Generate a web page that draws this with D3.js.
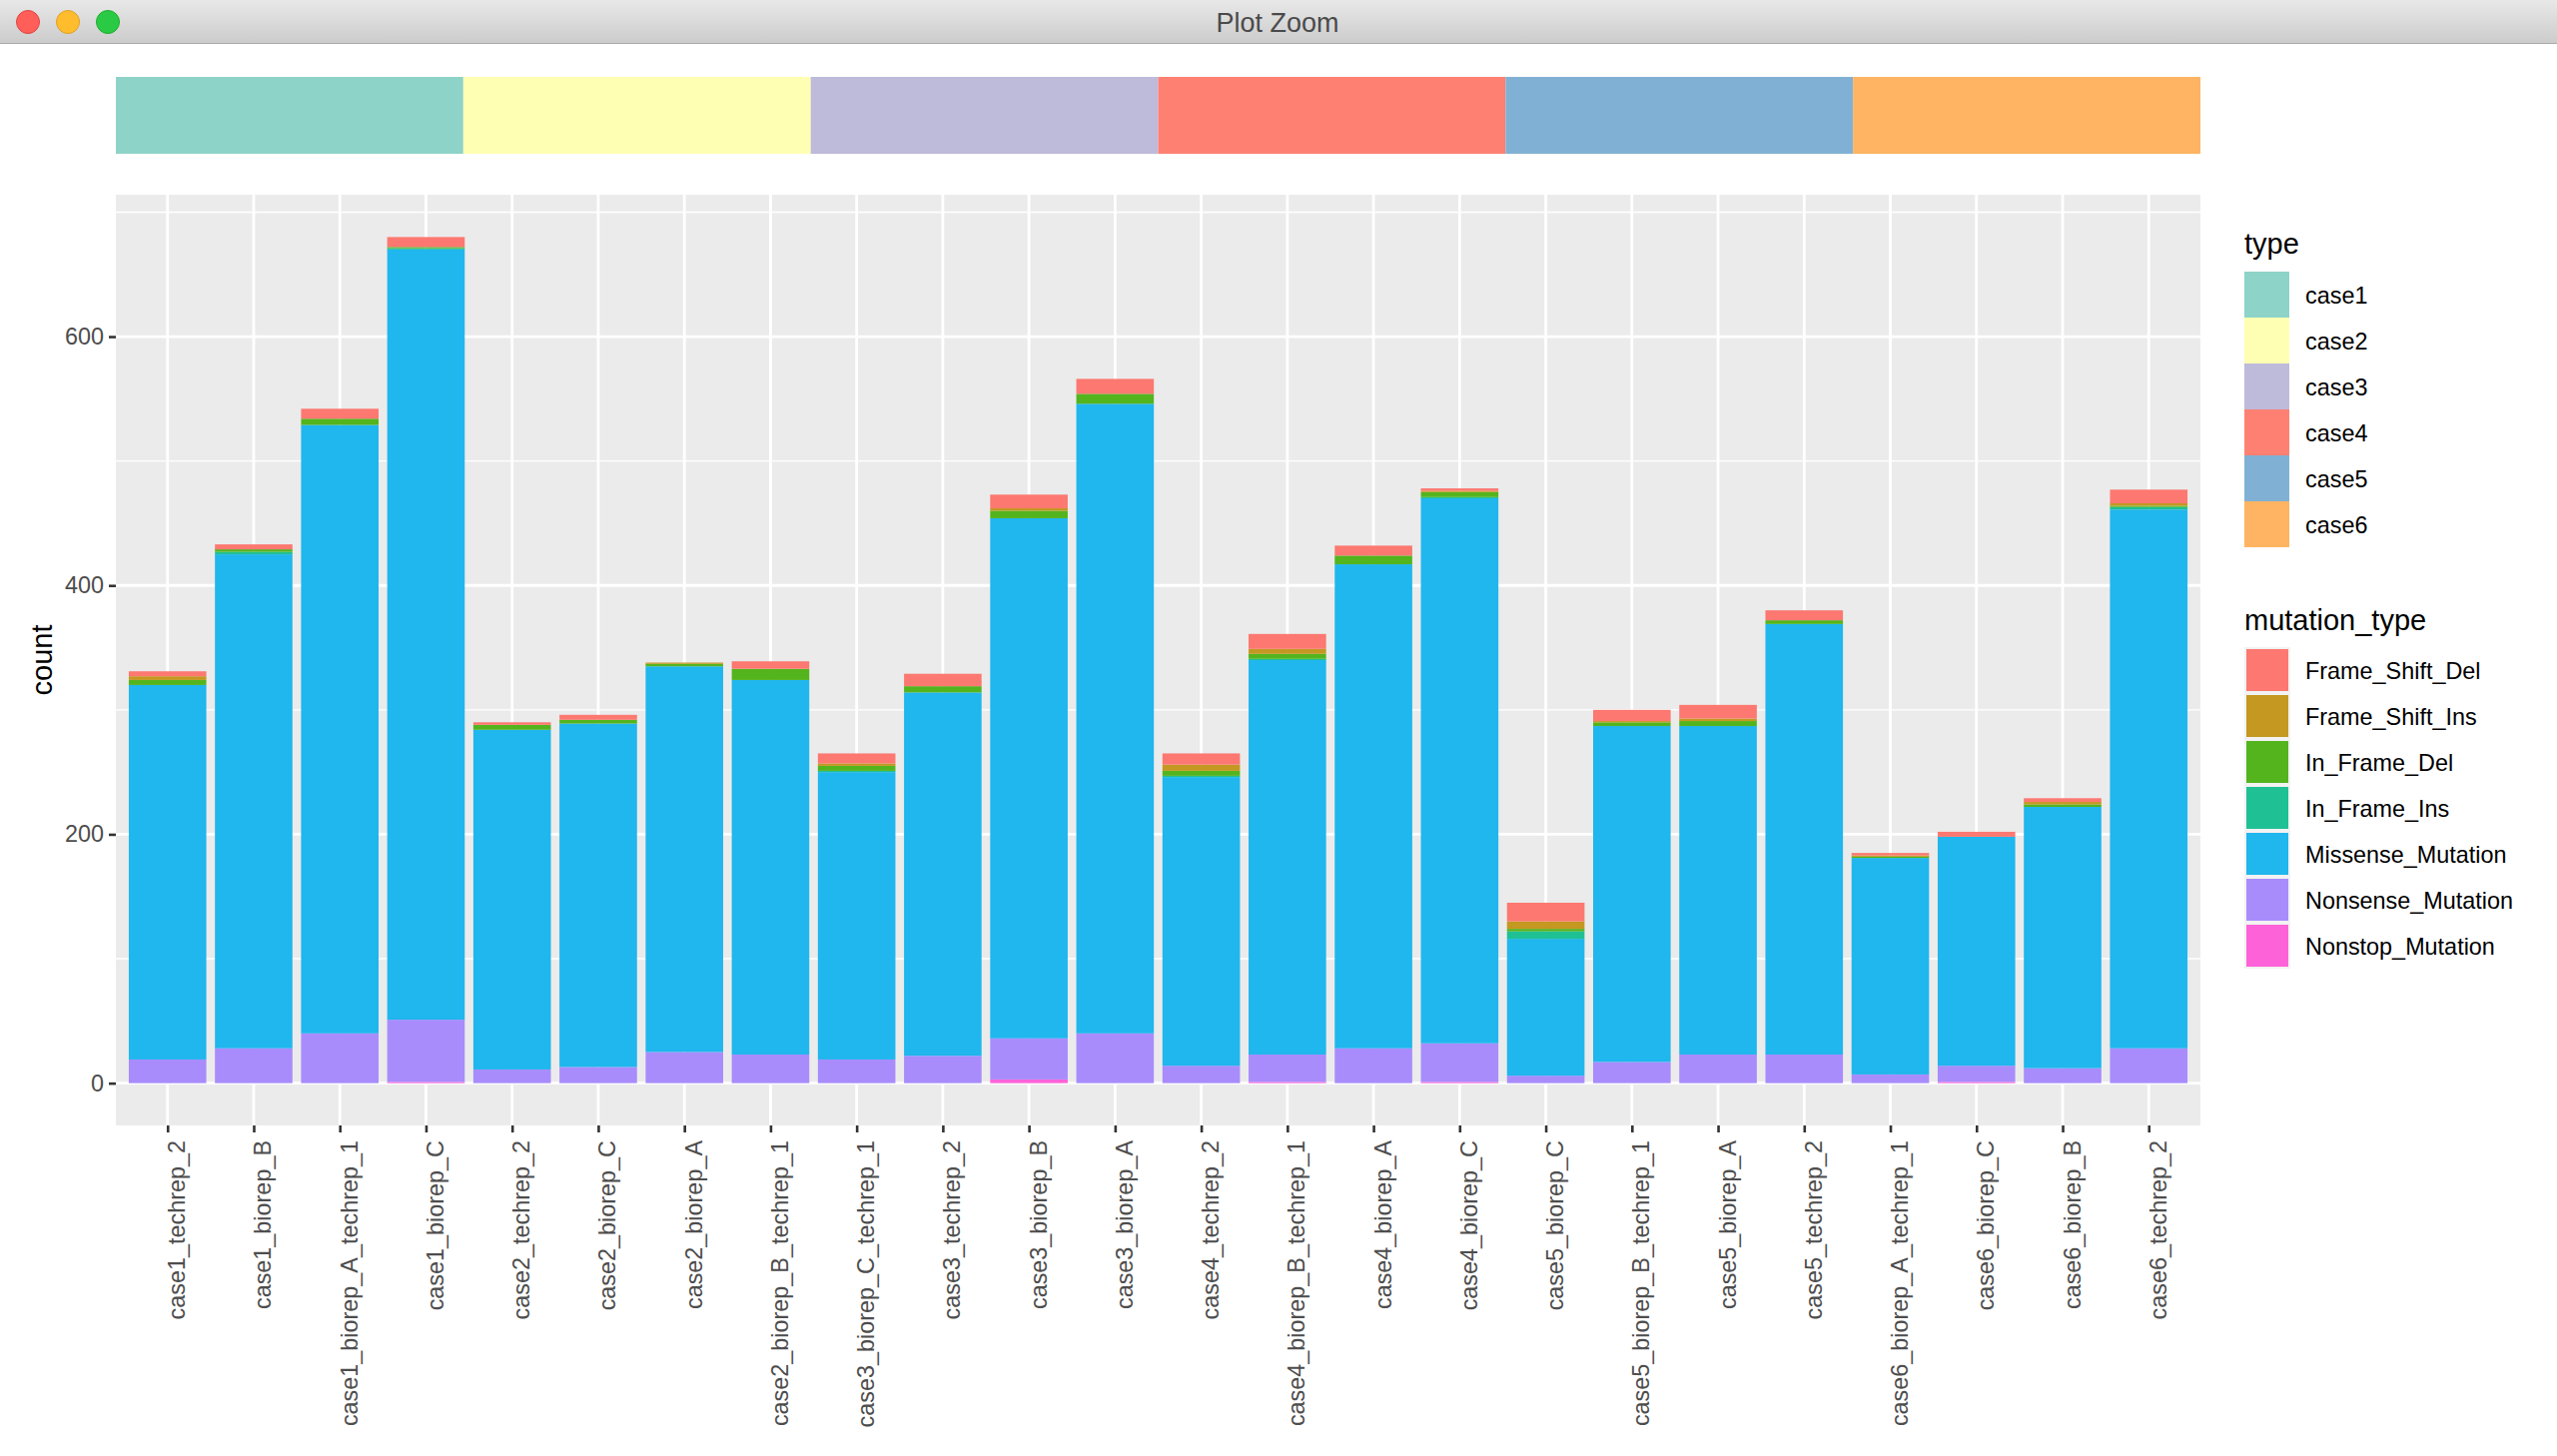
<!DOCTYPE html>
<html>
<head>
<meta charset="utf-8">
<script src="https://cdn.jsdelivr.net/npm/d3@7"></script>
<style>
  body { margin: 0; background: #fff; }
  text { font-family: "Liberation Sans", Arial, sans-serif; }
</style>
</head>
<body>
<svg id="chart" width="2560" height="1458"></svg>
<script>
// Sample names, in plotting order
var samples = [
  'case1_techrep_2', 'case1_biorep_B', 'case1_biorep_A_techrep_1', 'case1_biorep_C',
  'case2_techrep_2', 'case2_biorep_C', 'case2_biorep_A', 'case2_biorep_B_techrep_1',
  'case3_biorep_C_techrep_1', 'case3_techrep_2', 'case3_biorep_B', 'case3_biorep_A',
  'case4_techrep_2', 'case4_biorep_B_techrep_1', 'case4_biorep_A', 'case4_biorep_C',
  'case5_biorep_C', 'case5_biorep_B_techrep_1', 'case5_biorep_A', 'case5_techrep_2',
  'case6_biorep_A_techrep_1', 'case6_biorep_C', 'case6_biorep_B', 'case6_techrep_2'
];
var cases = ['case1', 'case2', 'case3', 'case4', 'case5', 'case6'];
var caseColors = ['#8ED3C7', '#FFFFB4', '#BEBADA', '#FE8072', '#80B1D4', '#FEB462'];

// Counts per mutation type, one value per sample
var frameShiftDel = [4, 4, 8, 8, 2, 4, 0, 6, 8, 10, 11, 12, 9, 12, 8, 2, 15, 9, 11, 8, 2, 4, 3, 11];
var frameShiftIns = [3, 0, 0, 0, 0, 0, 1, 0, 2, 0, 2, 0, 5, 4, 0, 1, 6, 1, 2, 0, 1, 0, 2, 2];
var inFrameDel = [4, 2, 5, 1, 4, 3, 2, 9, 4, 5, 6, 8, 4, 4, 7, 4, 2, 3, 4, 3, 1, 0, 2, 1];
var inFrameIns = [0, 2, 0, 1, 0, 0, 0, 0, 1, 0, 0, 0, 1, 1, 0, 1, 6, 0, 0, 0, 0, 0, 0, 2];
var missense = [301, 397, 489, 619, 273, 276, 310, 301, 231, 292, 418, 506, 232, 317, 389, 438, 110, 270, 264, 346, 174, 184, 210, 433];
var nonsense = [19, 28, 40, 50, 11, 13, 25, 23, 19, 22, 33, 40, 14, 22, 28, 31, 6, 17, 23, 23, 7, 13, 12, 28];
var nonstop = [0, 0, 0, 1, 0, 0, 0, 0, 0, 0, 3, 0, 0, 1, 0, 1, 0, 0, 0, 0, 0, 1, 0, 0];

var mutationTypes = ['Frame_Shift_Del', 'Frame_Shift_Ins', 'In_Frame_Del', 'In_Frame_Ins',
                     'Missense_Mutation', 'Nonsense_Mutation', 'Nonstop_Mutation'];
var mutationColors = ['#FC7870', '#C49821', '#54B41E', '#1FC094', '#20B6EE', '#A88CFC', '#FE62D8'];
var mutationCounts = [frameShiftDel, frameShiftIns, inFrameDel, inFrameIns, missense, nonsense, nonstop];

var majorTicks = [0, 200, 400, 600];
var minorTicks = [100, 300, 500, 700];

// Layout
var panelLeft = 116, panelRight = 2203, panelTop = 195, panelBottom = 1127;
var tickSize = 7, tickWidth = 2.6;

var svg = d3.select('#chart');

// Window chrome
var defs = svg.append('defs');
var titleGradient = defs.append('linearGradient')
  .attr('id', 'title_gradient')
  .attr('x1', 0).attr('y1', 0).attr('x2', 0).attr('y2', 1);
titleGradient.append('stop').attr('offset', '0%').attr('stop-color', '#E8E8E8');
titleGradient.append('stop').attr('offset', '100%').attr('stop-color', '#CCCCCC');

svg.append('rect')
  .attr('x', 0).attr('y', 0).attr('width', 2560).attr('height', 43)
  .attr('fill', 'url(#title_gradient)');
svg.append('rect')
  .attr('x', 0).attr('y', 43).attr('width', 2560).attr('height', 1)
  .attr('fill', '#A9A9A9');
svg.selectAll('.window_button')
  .data([[28, '#FF5F58', '#E0443E'], [68, '#FFBD2E', '#DFA023'], [108, '#2ACA44', '#1DAD2B']])
  .enter().append('circle')
  .attr('class', 'window_button')
  .attr('cx', function(d) { return d[0]; })
  .attr('cy', 22)
  .attr('r', 11.5)
  .attr('fill', function(d) { return d[1]; })
  .attr('stroke', function(d) { return d[2]; })
  .attr('stroke-width', 1);
svg.append('text')
  .attr('x', 1279).attr('y', 32)
  .attr('text-anchor', 'middle')
  .attr('font-size', 27)
  .attr('fill', '#4A4A4A')
  .text('Plot Zoom');

// Scales
var x = d3.scalePoint().domain(samples).range([panelLeft, panelRight]).padding(0.6);
var y = d3.scaleLinear().domain([-34, 714]).range([panelBottom, panelTop]);
var caseX = d3.scaleBand().domain(cases).range([panelLeft, panelRight]);
var caseColor = d3.scaleOrdinal().domain(cases).range(caseColors);
var mutationColor = d3.scaleOrdinal().domain(mutationTypes).range(mutationColors);
var barWidth = x.step() * 0.9;

// Annotation strip above the panel
svg.selectAll('.case_tile')
  .data(cases)
  .enter().append('rect')
  .attr('class', 'case_tile')
  .attr('x', function(d) { return caseX(d); })
  .attr('y', 77)
  .attr('width', caseX.bandwidth())
  .attr('height', 77)
  .attr('fill', function(d) { return caseColor(d); });

// Panel and grid
svg.append('rect')
  .attr('x', panelLeft).attr('y', panelTop)
  .attr('width', panelRight - panelLeft).attr('height', panelBottom - panelTop)
  .attr('fill', '#EBEBEB');

svg.selectAll('.minor_grid')
  .data(minorTicks)
  .enter().append('line')
  .attr('class', 'minor_grid')
  .attr('x1', panelLeft).attr('x2', panelRight)
  .attr('y1', function(d) { return y(d); })
  .attr('y2', function(d) { return y(d); })
  .attr('stroke', '#fff')
  .attr('stroke-width', 1.4);
svg.selectAll('.major_grid')
  .data(majorTicks)
  .enter().append('line')
  .attr('class', 'major_grid')
  .attr('x1', panelLeft).attr('x2', panelRight)
  .attr('y1', function(d) { return y(d); })
  .attr('y2', function(d) { return y(d); })
  .attr('stroke', '#fff')
  .attr('stroke-width', 2.8);
svg.selectAll('.sample_grid')
  .data(samples)
  .enter().append('line')
  .attr('class', 'sample_grid')
  .attr('x1', function(d) { return x(d); })
  .attr('x2', function(d) { return x(d); })
  .attr('y1', panelTop).attr('y2', panelBottom)
  .attr('stroke', '#fff')
  .attr('stroke-width', 2.8);

// Stacked bars, first mutation type on top like ggplot
var rows = samples.map(function(sample, i) {
  var row = {sample: sample};
  mutationTypes.forEach(function(type, j) { row[type] = mutationCounts[j][i]; });
  return row;
});
var stacked = d3.stack().keys(mutationTypes.slice().reverse())(rows);

svg.selectAll('.mutation_layer')
  .data(stacked)
  .enter().append('g')
  .attr('class', 'mutation_layer')
  .attr('fill', function(d) { return mutationColor(d.key); })
  .selectAll('rect')
  .data(function(d) { return d; })
  .enter().append('rect')
  .attr('x', function(d) { return x(d.data.sample) - barWidth / 2; })
  .attr('y', function(d) { return y(d[1]); })
  .attr('width', barWidth)
  .attr('height', function(d) { return y(d[0]) - y(d[1]); });

// Axes
var yAxis = svg.append('g')
  .attr('transform', 'translate(' + panelLeft + ',0)')
  .call(d3.axisLeft(y).tickValues(majorTicks).tickSize(tickSize).tickPadding(5));
var xAxis = svg.append('g')
  .attr('transform', 'translate(0,' + panelBottom + ')')
  .call(d3.axisBottom(x).tickSize(tickSize));

yAxis.select('.domain').remove();
xAxis.select('.domain').remove();
svg.selectAll('.tick line').attr('stroke', '#333333').attr('stroke-width', tickWidth);
yAxis.selectAll('text')
  .attr('font-size', 23.4)
  .attr('font-family', '"Liberation Sans", Arial, sans-serif')
  .attr('fill', '#4D4D4D');
xAxis.selectAll('text')
  .attr('font-size', 23.4)
  .attr('font-family', '"Liberation Sans", Arial, sans-serif')
  .attr('fill', '#4D4D4D')
  .attr('text-anchor', 'end')
  .attr('x', 0).attr('y', 0).attr('dy', 0)
  .attr('transform', 'translate(17,15) rotate(-90)');

svg.append('text')
  .attr('transform', 'translate(52,661) rotate(-90)')
  .attr('text-anchor', 'middle')
  .attr('font-size', 29)
  .attr('fill', '#000')
  .text('count');

// Legend for the cases
var legendX = 2247, keySize = 46, labelX = 2308;

svg.append('text')
  .attr('x', legendX).attr('y', 254)
  .attr('font-size', 29)
  .text('type');
svg.selectAll('.case_key')
  .data(cases)
  .enter().append('rect')
  .attr('class', 'case_key')
  .attr('x', legendX)
  .attr('y', function(d, i) { return 272 + i * keySize; })
  .attr('width', keySize - 1)
  .attr('height', keySize)
  .attr('fill', function(d) { return caseColor(d); });
svg.selectAll('.case_label')
  .data(cases)
  .enter().append('text')
  .attr('class', 'case_label')
  .attr('x', labelX)
  .attr('y', function(d, i) { return 304 + i * keySize; })
  .attr('font-size', 23.4)
  .text(function(d) { return d; });

// Legend for the mutation types
svg.append('text')
  .attr('x', legendX).attr('y', 631)
  .attr('font-size', 29)
  .text('mutation_type');
svg.selectAll('.mutation_key_bg')
  .data(mutationTypes)
  .enter().append('rect')
  .attr('class', 'mutation_key_bg')
  .attr('x', legendX)
  .attr('y', function(d, i) { return 648 + i * keySize; })
  .attr('width', keySize)
  .attr('height', keySize)
  .attr('fill', '#F2F2F2');
svg.selectAll('.mutation_key')
  .data(mutationTypes)
  .enter().append('rect')
  .attr('class', 'mutation_key')
  .attr('x', legendX + 2)
  .attr('y', function(d, i) { return 650 + i * keySize; })
  .attr('width', keySize - 4)
  .attr('height', keySize - 4)
  .attr('fill', function(d) { return mutationColor(d); });
svg.selectAll('.mutation_label')
  .data(mutationTypes)
  .enter().append('text')
  .attr('class', 'mutation_label')
  .attr('x', labelX)
  .attr('y', function(d, i) { return 680 + i * keySize; })
  .attr('font-size', 23.4)
  .text(function(d) { return d; });
</script>
</body>
</html>
